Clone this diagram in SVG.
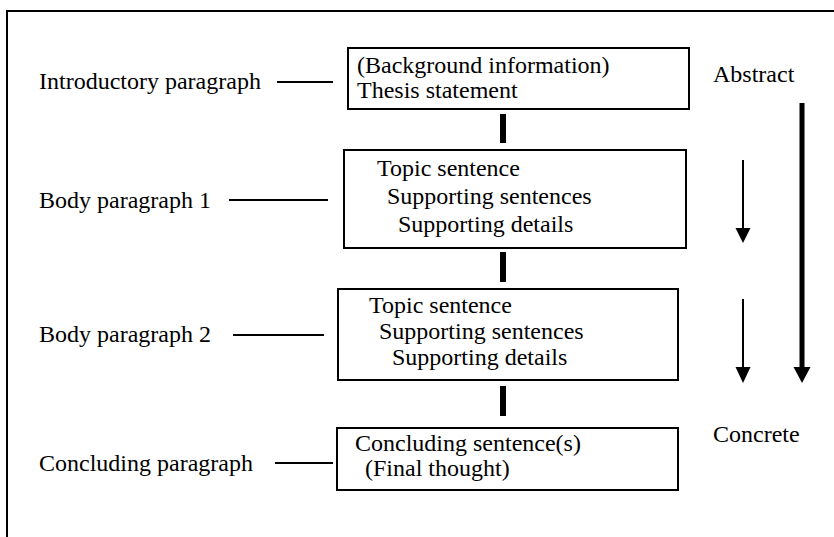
<svg xmlns="http://www.w3.org/2000/svg" width="834" height="537" viewBox="0 0 834 537">
<style>
text{font-family:'Liberation Serif','Times New Roman','DejaVu Serif',serif;font-size:24px;fill:#000}
.box{fill:#fff;stroke:#000;stroke-width:2}
.ln{stroke:#000;stroke-width:2;fill:none}
.bar{stroke:#000;stroke-width:6;fill:none}
</style>
<rect width="834" height="537" fill="#fff"/>
<rect x="7" y="11" width="840" height="540" fill="none" stroke="#000" stroke-width="2"/>
<g font-family="Liberation Serif, Times New Roman, DejaVu Serif, serif">
<g id="intro">
<text x="39" y="89">Introductory paragraph</text>
<rect class="box" x="348" y="48" width="341" height="61"/>
<text x="357" y="73">(Background information)</text>
<text x="357" y="98">Thesis statement</text>
</g>
<g id="body1">
<text x="39" y="208">Body paragraph 1</text>
<rect class="box" x="344" y="150" width="342" height="98"/>
<text x="377" y="176">Topic sentence</text>
<text x="387" y="204">Supporting sentences</text>
<text x="398" y="232">Supporting details</text>
</g>
<g id="body2">
<text x="39" y="342">Body paragraph 2</text>
<rect class="box" x="338" y="289" width="340" height="91"/>
<text x="369" y="313">Topic sentence</text>
<text x="379" y="339">Supporting sentences</text>
<text x="392" y="365">Supporting details</text>
</g>
<g id="conclusion">
<text x="39" y="471">Concluding paragraph</text>
<rect class="box" x="337" y="428" width="341" height="62"/>
<text x="355" y="451">Concluding sentence(s)</text>
<text x="365" y="476">(Final thought)</text>
</g>
<g id="abstract"><text x="713" y="82">Abstract</text></g>
<g id="concrete"><text x="713" y="442">Concrete</text></g>
</g>
<g id="connectors">
<line class="ln" x1="277" y1="82" x2="333" y2="82"/>
<line class="ln" x1="229" y1="200" x2="328" y2="200"/>
<line class="ln" x1="233" y1="335" x2="324" y2="335"/>
<line class="ln" x1="275" y1="463" x2="333" y2="463"/>
<line class="bar" x1="503" y1="114" x2="503" y2="143"/>
<line class="bar" x1="503" y1="252" x2="503" y2="282"/>
<line class="bar" x1="503" y1="386" x2="503" y2="416"/>
<line class="ln" x1="743" y1="160" x2="743" y2="230"/>
<polygon points="735.5,228 750.5,228 743,243" fill="#000"/>
<line class="ln" x1="743" y1="299" x2="743" y2="369"/>
<polygon points="735.5,367 750.5,367 743,383" fill="#000"/>
<line stroke="#000" stroke-width="5" x1="802" y1="103" x2="802" y2="369"/>
<polygon points="793.5,367 810.5,367 802,383" fill="#000"/>
</g>
</svg>
